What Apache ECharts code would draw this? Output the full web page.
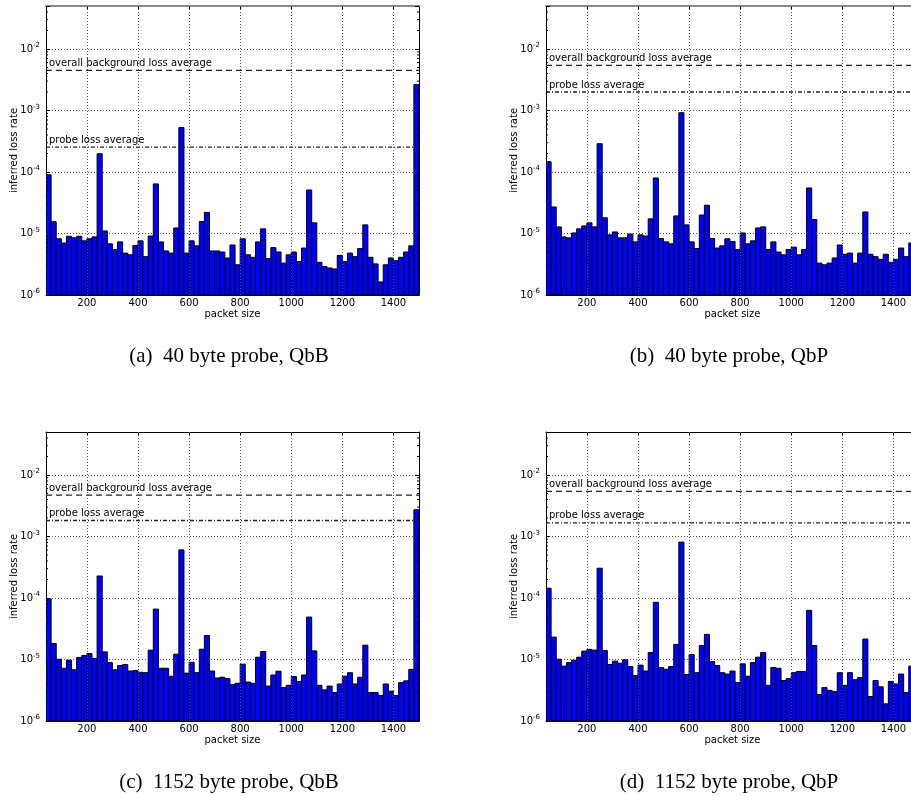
<!DOCTYPE html>
<html><head><meta charset="utf-8">
<script src="https://cdn.jsdelivr.net/npm/echarts@6/dist/echarts.min.js"></script>
<style>html,body{margin:0;padding:0;background:#fff}#c{width:911px;height:797px}</style>
</head><body><div id="c"></div>
<script>
// ---- data ----
const PACKET_SIZES = [40,60,80,100,120,140,160,180,200,220,240,260,280,300,320,340,360,380,400,420,
  440,460,480,500,520,540,560,580,600,620,640,660,680,700,720,740,760,780,800,820,
  840,860,880,900,920,940,960,980,1000,1020,1040,1060,1080,1100,1120,1140,1160,1180,1200,1220,
  1240,1260,1280,1300,1320,1340,1360,1380,1400,1420,1440,1460,1480];
const BIN_WIDTH = 20;

const LOSS_A = [9.0e-5,1.55e-5,8.2e-6,7.0e-6,9.0e-6,8.5e-6,9.0e-6,7.6e-6,8.2e-6,8.8e-6,
  1.98e-4,1.1e-5,6.8e-6,5.5e-6,7.3e-6,4.8e-6,4.5e-6,6.4e-6,7.6e-6,4.2e-6,
  9.1e-6,6.4e-5,7.3e-6,5.2e-6,4.8e-6,1.23e-5,5.3e-4,4.8e-6,7.6e-6,6.3e-6,
  1.56e-5,2.2e-5,5.2e-6,5.2e-6,5.0e-6,4.0e-6,6.5e-6,3.1e-6,8.2e-6,4.5e-6,
  4.1e-6,7.3e-6,1.19e-5,3.9e-6,5.9e-6,5.0e-6,3.3e-6,4.5e-6,5.0e-6,3.5e-6,
  5.8e-6,5.1e-5,1.49e-5,3.4e-6,2.9e-6,2.75e-6,2.65e-6,4.4e-6,3.5e-6,4.8e-6,
  4.2e-6,5.7e-6,1.38e-5,4.1e-6,3.2e-6,1.63e-6,3.1e-6,4.0e-6,3.6e-6,4.1e-6,
  5.0e-6,6.3e-6,2.63e-3];
const LOSS_B = [1.47e-4,2.7e-5,1.28e-5,8.8e-6,8.5e-6,1.02e-5,1.19e-5,1.33e-5,1.49e-5,1.28e-5,
  2.88e-4,1.8e-5,9.5e-6,1.06e-5,8.5e-6,8.5e-6,9.8e-6,7.3e-6,9.5e-6,9.1e-6,
  1.73e-5,8.0e-5,8.3e-6,7.3e-6,6.8e-6,1.93e-5,9.2e-4,1.38e-5,7.3e-6,5.7e-6,
  2.0e-5,2.88e-5,8.3e-6,5.8e-6,6.3e-6,8.2e-6,7.4e-6,5.5e-6,1.02e-5,6.8e-6,
  7.6e-6,1.23e-5,1.28e-5,5.5e-6,7.3e-6,5.0e-6,4.5e-6,5.5e-6,6.0e-6,4.5e-6,
  5.5e-6,5.5e-5,1.69e-5,3.3e-6,3.1e-6,3.3e-6,4.0e-6,6.5e-6,4.6e-6,4.8e-6,
  3.3e-6,4.8e-6,2.24e-5,4.6e-6,4.2e-6,3.8e-6,4.6e-6,3.4e-6,3.8e-6,5.8e-6,
  4.2e-6,7.0e-6,2.6e-3];
const LOSS_C = [9.75e-5,1.82e-5,1.01e-5,7.2e-6,9.75e-6,6.8e-6,1.08e-5,1.16e-5,1.25e-5,1.04e-5,
  2.28e-4,1.33e-5,8.9e-6,6.8e-6,8.0e-6,8.3e-6,6.5e-6,6.6e-6,6.2e-6,6.1e-6,
  1.42e-5,6.6e-5,7.2e-6,7.2e-6,5.35e-6,1.22e-5,6.06e-4,6.0e-6,9.0e-6,6.1e-6,
  1.47e-5,2.46e-5,6.5e-6,5.0e-6,5.15e-6,4.9e-6,3.9e-6,4.1e-6,8.4e-6,4.3e-6,
  4.1e-6,1.09e-5,1.35e-5,3.7e-6,5.6e-6,6.45e-6,3.5e-6,3.8e-6,5.3e-6,4.4e-6,
  5.6e-6,4.9e-5,1.38e-5,3.8e-6,3.2e-6,3.7e-6,2.9e-6,4.0e-6,5.35e-6,6.1e-6,
  4.0e-6,5.15e-6,1.71e-5,2.9e-6,2.9e-6,2.6e-6,4.0e-6,3.05e-6,2.6e-6,4.2e-6,
  4.5e-6,6.9e-6,2.72e-3];
const LOSS_D = [1.44e-4,2.31e-5,1.01e-5,7.8e-6,8.9e-6,9.75e-6,1.09e-5,1.37e-5,1.46e-5,1.42e-5,
  3.05e-4,1.4e-5,8.3e-6,9.4e-6,8.7e-6,9.9e-6,7.7e-6,5.5e-6,8.1e-6,6.5e-6,
  1.3e-5,8.5e-5,7.4e-6,6.95e-6,7.7e-6,1.76e-5,8.1e-4,5.7e-6,1.21e-5,6.1e-6,
  1.69e-5,2.56e-5,9.3e-6,8.0e-6,6.1e-6,5.8e-6,6.5e-6,4.2e-6,8.5e-6,5.35e-6,
  8.9e-6,1.09e-5,1.3e-5,3.8e-6,7.4e-6,7.2e-6,4.55e-6,4.9e-6,6.1e-6,6.4e-6,
  6.4e-6,6.3e-5,1.69e-5,2.7e-6,3.5e-6,3.15e-6,3.0e-6,6.1e-6,3.8e-6,6.1e-6,
  4.7e-6,5.1e-6,2.15e-5,2.5e-6,4.55e-6,3.6e-6,1.9e-6,4.4e-6,4.0e-6,5.8e-6,
  2.9e-6,7.8e-6,2.7e-3];

const BG_AVG = [4.5e-3, 5.4e-3, 4.7e-3, 5.4e-3];
const PROBE_AVG = [2.54e-4, 2.0e-3, 1.82e-3, 1.67e-3];
const CAPTIONS = ['(a)  40 byte probe, QbB', '(b)  40 byte probe, QbP', '(c)  1152 byte probe, QbB', '(d)  1152 byte probe, QbP'];
const AVG_LABELS = ['overall background loss average', 'probe loss average'];
const X_LABEL = 'packet size';
const Y_LABEL = 'inferred loss rate';

const X_TICKS = [200,400,600,800,1000,1200,1400];
const Y_MINOR_TICKS = [2e-6,3e-6,4e-6,5e-6,6e-6,7e-6,8e-6,9e-6,
  2e-5,3e-5,4e-5,5e-5,6e-5,7e-5,8e-5,9e-5,
  2e-4,3e-4,4e-4,5e-4,6e-4,7e-4,8e-4,9e-4,
  2e-3,3e-3,4e-3,5e-3,6e-3,7e-3,8e-3,9e-3,
  2e-2,3e-2,4e-2];
const X_MIN = 40, X_MAX = 1500, Y_MIN = 1e-6, Y_MAX = 0.05;

// ---- layout / style ----
const FONT = 'DejaVu Sans';
const SERIF = 'Liberation Serif';
const GRIDS = [{left:46,top:6},{left:546,top:6},{left:46,top:432},{left:546,top:432}];
const GW = 373, GH = 289;
const TOP_LINE = [{color:'#888',width:2},{color:'#888',width:2},{color:'#000',width:1},{color:'#000',width:1}];
const CAPTION_POS = [{x:224,y:341},{x:724,y:341},{x:224,y:767},{x:724,y:767}];
const AVG_DASH = [[6,4],[4,2,1,2]];
const LOSSES = [LOSS_A, LOSS_B, LOSS_C, LOSS_D];

const chart = echarts.init(document.getElementById('c'));
const option = {animation:false, grid:[], xAxis:[], yAxis:[], series:[], title:[]};

function yLabel(v){
  const e = Math.log10(v);
  if (Math.abs(e - Math.round(e)) > 1e-6) return '';
  return '{b|10}{s|' + Math.round(e) + '}';
}

LOSSES.forEach((vals, i) => {
  const g = GRIDS[i];
  option.grid.push({left:g.left, top:g.top, width:GW, height:GH, show:false, outerBoundsMode:'none', containLabel:false});
  const xb = option.xAxis.length;
  option.xAxis.push({gridIndex:i, type:'value', min:X_MIN, max:X_MAX, position:'bottom',
    name:X_LABEL, nameLocation:'middle', nameGap:14, nameMoveOverlap:false,
    nameTextStyle:{fontFamily:FONT, fontSize:10, color:'#000'},
    axisLine:{show:true, onZero:false, lineStyle:{color:'#000', width:1}},
    axisTick:{show:true, inside:true, length:4, customValues:X_TICKS, lineStyle:{color:'#000'}},
    axisLabel:{show:true, customValues:X_TICKS, margin:3, fontFamily:FONT, fontSize:10, color:'#000',
      formatter:v => String(v)},
    splitLine:{show:false}});
  option.xAxis.push({gridIndex:i, type:'value', min:X_MIN, max:X_MAX, position:'top',
    axisLine:{show:true, onZero:false, lineStyle:TOP_LINE[i]},
    axisTick:{show:true, inside:true, length:4, customValues:X_TICKS, lineStyle:{color:'#000'}},
    axisLabel:{show:false}, splitLine:{show:false}});
  const yl = option.yAxis.length;
  option.yAxis.push({gridIndex:i, type:'log', logBase:10, min:Y_MIN, max:Y_MAX, position:'left',
    name:Y_LABEL, nameLocation:'middle', nameGap:27, nameMoveOverlap:false,
    nameTextStyle:{fontFamily:FONT, fontSize:10, color:'#000'},
    axisLine:{show:true, onZero:false, lineStyle:{color:'#000', width:1}},
    axisTick:{show:true, inside:true, length:4, lineStyle:{color:'#000'}},
    axisLabel:{show:true, margin:6, formatter:yLabel,
      rich:{b:{fontFamily:FONT, fontSize:10, color:'#000'},
            s:{fontFamily:FONT, fontSize:7, color:'#000', padding:[0,0,7,0]}}},
    splitLine:{show:true, lineStyle:{color:'#555', width:1, type:[1,2]}}});
  option.yAxis.push({gridIndex:i, type:'log', logBase:10, min:Y_MIN, max:Y_MAX, position:'right',
    axisLine:{show:true, onZero:false, lineStyle:{color:'#000', width:1}},
    axisTick:{show:true, inside:true, length:4, lineStyle:{color:'#000'}},
    axisLabel:{show:false}, splitLine:{show:false}});

  const pts = PACKET_SIZES.map((s, k) => [s, vals[k]]);

  // vertical dotted grid lines
  option.series.push({type:'line', xAxisIndex:xb, yAxisIndex:yl, data:pts, silent:true, z:1,
    showSymbol:false, symbol:'none', lineStyle:{opacity:0, width:0},
    markLine:{silent:true, symbol:'none', animation:false, label:{show:false},
      lineStyle:{color:'#555', width:1, type:[1,2]},
      data:X_TICKS.map(x => ({xAxis:x}))}});

  // bars
  option.series.push({type:'custom', xAxisIndex:xb, yAxisIndex:yl, data:pts, z:2, clip:true,
    renderItem:function(params, api){
      const x = api.value(0), y = api.value(1);
      const p0 = api.coord([x, y]);
      const p1 = api.coord([x + BIN_WIDTH, Y_MIN]);
      return {type:'rect', shape:{x:p0[0], y:p0[1], width:p1[0]-p0[0], height:p1[1]-p0[1]},
        style:{fill:'#0000ff', stroke:'#000', lineWidth:1}};
    }});

  // minor log ticks (left and right)
  option.series.push({type:'custom', xAxisIndex:xb, yAxisIndex:yl, data:Y_MINOR_TICKS.map(v => [X_MIN, v]), z:4, silent:true,
    renderItem:function(params, api){
      const a = api.coord([X_MIN, api.value(1)]);
      const b = api.coord([X_MAX, api.value(1)]);
      return {type:'group', children:[
        {type:'line', shape:{x1:a[0], y1:a[1], x2:a[0]+2, y2:a[1]}, style:{stroke:'#000', lineWidth:1}},
        {type:'line', shape:{x1:b[0]-2, y1:b[1], x2:b[0], y2:b[1]}, style:{stroke:'#000', lineWidth:1}}
      ]};
    }});

  // average lines with labels
  option.series.push({type:'custom', xAxisIndex:xb, yAxisIndex:yl, data:[[X_MIN, BG_AVG[i]],[X_MIN, PROBE_AVG[i]]], z:3, silent:true,
    renderItem:function(params, api){
      const v = api.value(1);
      const a = api.coord([X_MIN, v]);
      const b = api.coord([X_MAX, v]);
      return {type:'group', children:[
        {type:'line', shape:{x1:a[0], y1:a[1], x2:b[0], y2:b[1]},
          style:{stroke:'#222', lineWidth:1.3, lineDash:AVG_DASH[params.dataIndex]}},
        {type:'text', x:a[0]+3, y:a[1]-2,
          style:{text:AVG_LABELS[params.dataIndex], fontFamily:FONT, fontSize:10, fill:'#000',
            align:'left', verticalAlign:'bottom'}}
      ]};
    }});

  option.title.push({text:CAPTIONS[i], left:CAPTION_POS[i].x, top:CAPTION_POS[i].y, textAlign:'center',
    textStyle:{fontFamily:SERIF, fontSize:21, fontWeight:'normal', color:'#000'}});
});

chart.setOption(option);
</script></body></html>
